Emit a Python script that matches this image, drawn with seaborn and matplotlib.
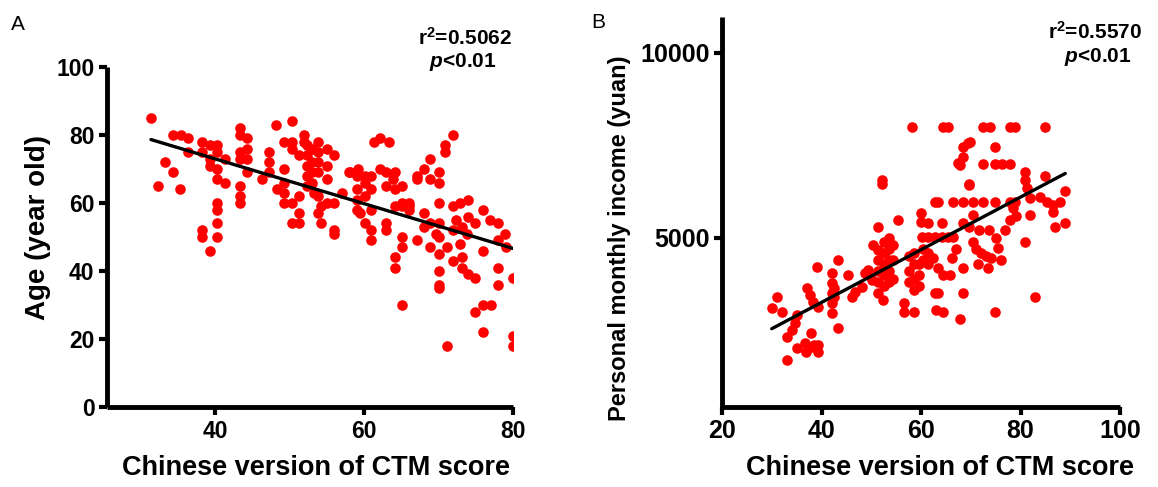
import matplotlib
matplotlib.use("Agg")
import matplotlib.pyplot as plt
import seaborn as sns
import numpy as np
import pandas as pd

# ---------------- data ----------------
a_score = [31.4, 32.4, 33.3, 34.3, 35.3, 34.3, 35.4, 36.4, 36.4, 38.3, 39.3, 40.3, 38.3, 39.3, 39.3, 40.3,
           40.3, 41.4, 41.4, 40.3, 40.3, 40.3, 40.3, 40.3, 38.3, 38.3, 39.3, 43.3, 43.3, 44.3, 43.3, 44.3,
           44.3, 43.3, 44.3, 43.3, 43.3, 43.3, 46.3, 47.3, 47.3, 47.3, 48.2, 48.3, 49.3, 49.3, 49.3, 49.3,
           49.3, 50.3, 50.3, 50.3, 50.3, 50.3, 51.3, 51.3, 51.3, 51.3, 52.0, 52.0, 52.3, 52.3, 52.3, 52.3,
           52.3, 53.0, 53.0, 53.0, 53.0, 53.3, 53.8, 53.8, 53.8, 53.8, 53.8, 53.8, 54.2, 54.2, 55.0, 55.0,
           55.0, 55.0, 56.0, 56.0, 56.0, 56.0, 57.0, 58.0, 58.1, 59.2, 59.0, 59.0, 59.0, 59.0, 59.5, 60.1,
           60.1, 60.1, 60.1, 61.0, 61.0, 61.0, 61.0, 61.0, 61.3, 62.1, 63.3, 62.1, 63.0, 63.0, 63.0, 63.0,
           64.2, 63.9, 65.1, 64.2, 64.2, 65.1, 66.0, 64.2, 64.2, 65.1, 65.1, 65.1, 65.1, 66.0, 66.0, 67.1,
           67.1, 67.1, 68.0, 68.0, 68.0, 68.9, 68.9, 68.9, 68.9, 69.7, 70.0, 70.0, 70.0, 70.0, 70.0, 70.0,
           70.0, 70.0, 70.0, 70.9, 70.9, 71.1, 71.1, 72.0, 72.0, 72.0, 72.0, 72.4, 72.9, 72.9, 73.1, 73.1,
           73.1, 73.8, 74.0, 74.0, 74.0, 74.9, 74.9, 74.9, 76.0, 76.0, 76.0, 76.0, 76.9, 77.1, 78.0, 78.0,
           78.0, 78.0, 78.9, 79.0, 80.0, 80.0, 80.0]
a_age = [85, 65, 72, 69, 64, 80, 80, 79, 75, 78, 77, 77, 75, 73, 71, 75,
         70, 73, 66, 67, 60, 58, 54, 50, 52, 50, 46, 82, 80, 79, 75, 76,
         73, 73, 69, 65, 62, 60, 67, 75, 72, 69, 83, 64, 70, 78, 66, 63,
         60, 84, 78, 76, 60, 54, 54, 57, 74, 62, 80, 78, 77, 74, 71, 68,
         65, 76, 72, 69, 66, 63, 78, 75, 72, 69, 62, 57, 54, 59, 76, 71,
         67, 60, 74, 60, 52, 51, 63, 69, 69, 70, 68, 64, 61, 58, 57, 68,
         66, 62, 54, 68, 52, 49, 58, 64, 78, 79, 78, 70, 69, 65, 54, 52,
         69, 67, 65, 64, 59, 59, 59, 44, 41, 60, 50, 47, 30, 60, 58, 68,
         67, 49, 70, 57, 53, 73, 67, 54, 47, 51, 69, 66, 60, 54, 50, 45,
         40, 36, 35, 75, 77, 47, 18, 80, 59, 52, 43, 55, 60, 48, 53, 44,
         41, 51, 61, 39, 56, 38, 28, 54, 58, 46, 30, 22, 55, 30, 54, 49,
         41, 36, 51, 47, 38, 21, 18]

b_score = [30.0, 31.0, 32.0, 33.0, 33.0, 34.0, 34.7, 35.0, 35.0, 36.7, 36.8, 37.6, 37.9, 38.4, 38.5, 39.2,
           39.2, 37.0, 37.7, 38.3, 39.3, 39.1, 42.1, 42.1, 42.1, 42.1, 42.1, 42.5, 42.5, 43.3, 43.3, 45.3,
           46.1, 46.7, 48.1, 48.7, 49.3, 50.1, 50.4, 51.4, 52.2, 52.2, 51.4, 51.4, 51.4, 51.4, 51.4, 52.4,
           52.5, 52.5, 52.5, 52.5, 52.5, 53.5, 53.5, 53.5, 53.5, 53.5, 54.3, 54.3, 54.3, 55.4, 56.6, 56.6,
           58.6, 57.6, 57.6, 57.6, 58.6, 58.6, 58.6, 58.6, 59.6, 59.6, 59.6, 58.2, 60.0, 60.0, 60.2, 61.5,
           62.9, 64.2, 65.5, 66.4, 61.5, 62.9, 62.9, 63.0, 60.4, 60.4, 61.5, 61.5, 62.4, 63.4, 64.4, 65.8,
           63.4, 64.4, 63.4, 64.4, 65.4, 66.4, 64.3, 67.4, 68.4, 69.4, 68.4, 69.8, 67.8, 69.7, 68.4, 70.4,
           68.4, 70.4, 68.4, 67.8, 69.6, 72.5, 73.8, 77.9, 78.9, 84.9, 74.9, 72.5, 74.9, 76.3, 77.9, 80.9,
           80.9, 84.9, 89.0, 72.5, 74.9, 77.9, 78.9, 81.3, 81.9, 83.9, 85.3, 86.5, 87.9, 81.9, 86.5, 78.5,
           79.0, 86.9, 88.9, 80.9, 82.9, 69.6, 71.6, 73.6, 75.0, 75.5, 76.0, 70.4, 71.0, 72.0, 73.0, 74.0,
           71.5, 73.5, 66.3, 67.0, 74.9, 76.9, 77.9, 68.4]
b_income = [3110, 3400, 3000, 1700, 2320, 2510, 2700, 2920, 2030, 2160, 1920, 2050, 2430, 2110, 2050, 1920,
            2110, 3650, 3460, 3270, 3140, 4220, 4050, 3780, 3510, 3240, 2970, 3400, 3650, 4400, 2570, 4000,
            3400, 3540, 3680, 4050, 4140, 3870, 4800, 5300, 6570, 6450, 4680, 4400, 4100, 3800, 3500, 3320,
            4900, 4600, 4300, 4000, 3700, 5000, 4700, 4400, 4100, 3800, 4800, 4400, 3900, 5490, 3240, 3000,
            3000, 4500, 4100, 3800, 4600, 4300, 3900, 3600, 4300, 4000, 3700, 8000, 5680, 5430, 5030, 5030,
            5030, 5030, 5030, 5030, 5400, 5970, 3510, 3050, 4700, 4400, 4600, 4300, 4460, 4190, 4000, 4000,
            3510, 3000, 5970, 8000, 8000, 5970, 5400, 7030, 7190, 7570, 7457, 7592, 6970, 6430, 5970, 5970,
            5400, 5620, 3510, 2810, 6460, 8000, 8000, 8000, 8000, 8000, 7457, 7000, 7000, 7000, 7000, 6780,
            6570, 6680, 6270, 5970, 5970, 5970, 5970, 6350, 6080, 6110, 5970, 5890, 5970, 5620, 5700, 5800,
            5600, 5300, 5400, 4890, 3400, 5300, 5220, 5220, 5000, 4730, 4400, 4890, 4700, 4600, 4500, 4460,
            4300, 4200, 4460, 4700, 3000, 5220, 5490, 4190]

a_xticks = [40, 60, 80]
a_yticks = [0, 20, 40, 60, 80, 100]
b_xticks = [20, 40, 60, 80, 100]
b_yticks = [5000, 10000]

df_a = pd.DataFrame({"score": a_score, "age": a_age})
df_b = pd.DataFrame({"score": b_score, "income": b_income})

# ---------------- style ----------------
sns.set_style("white")
plt.rcParams["font.family"] = ["Liberation Sans", "DejaVu Sans"]
plt.rcParams["font.weight"] = "bold"
plt.rcParams["text.color"] = "black"
plt.rcParams["axes.labelcolor"] = "black"
plt.rcParams["xtick.color"] = "black"
plt.rcParams["ytick.color"] = "black"
plt.rcParams["mathtext.fontset"] = "custom"
plt.rcParams["mathtext.rm"] = "Liberation Sans:bold"
plt.rcParams["mathtext.bf"] = "Liberation Sans:bold"
plt.rcParams["mathtext.it"] = "Liberation Sans:italic:bold"

W, H = 1158, 487
fig = plt.figure(figsize=(W / 100, H / 100), dpi=100)

def px_axes(l, r, t, b):
    return fig.add_axes([l / W, 1 - b / H, (r - l) / W, (b - t) / H])

axA = px_axes(107, 513, 67, 407)
axB = px_axes(722, 1120, 17, 407)

scat = dict(s=58, color="#ff0000", alpha=1, linewidths=0, zorder=2)
line = dict(color="black", lw=2.4, zorder=3)

sns.regplot(data=df_a, x="score", y="age", ax=axA, ci=None,
            scatter_kws=scat, line_kws=line)
sns.regplot(data=df_b, x="score", y="income", ax=axB, ci=None,
            scatter_kws=scat, line_kws=line)

axA.set_xlim(25.5, 80)
axA.set_ylim(0, 100)
axA.set_xticks(a_xticks)
axA.set_yticks(a_yticks)
axB.set_xlim(20, 100)
axB.set_ylim(430, 10970)
axB.set_xticks(b_xticks)
axB.set_yticks(b_yticks)

for ax, lsize in ((axA, 16.5), (axB, 18)):
    for s in ("top", "right"):
        ax.spines[s].set_visible(False)
    for s in ("left", "bottom"):
        ax.spines[s].set_linewidth(3.5)
        ax.spines[s].set_color("black")
        ax.spines[s].set_capstyle("butt")
    ax.tick_params(direction="out", length=6, width=3, labelsize=lsize, color="black",
                   labelcolor="black", left=True, bottom=True, pad=3)
    for lab in ax.get_xticklabels() + ax.get_yticklabels():
        lab.set_fontweight("bold")
    ax.set_facecolor("none")

axA.set_xlabel("Chinese version of CTM score", fontsize=19.5, fontweight="bold")
axA.set_ylabel("Age (year old)", fontsize=20, fontweight="bold")
axB.set_xlabel("Chinese version of CTM score", fontsize=19.5, fontweight="bold")
axB.set_ylabel("Personal monthly income (yuan)", fontsize=17, fontweight="bold")

axA.xaxis.set_label_coords((316 - 107) / 406, -(455 - 407) / 340)
axA.yaxis.set_label_coords(-(107 - 51) / 406, (407 - 228) / 340)
axB.xaxis.set_label_coords((940 - 722) / 398, -(455 - 407) / 390)
axB.yaxis.set_label_coords(-(722 - 631) / 398, (407 - 238) / 390)

# annotations
fig.text(465 / W, 1 - 38 / H, r"r$^{2}$=0.5062", ha="center", va="center", fontsize=15, fontweight="bold")
fig.text(463 / W, 1 - 62 / H, r"$\mathit{p}$<0.01", ha="center", va="center", fontsize=15, fontweight="bold")
fig.text(1095 / W, 1 - 32 / H, r"r$^{2}$=0.5570", ha="center", va="center", fontsize=15, fontweight="bold")
fig.text(1098 / W, 1 - 57 / H, r"$\mathit{p}$<0.01", ha="center", va="center", fontsize=15, fontweight="bold")

fig.text(18 / W, 1 - 25 / H, "A", ha="center", va="center", fontsize=15, fontweight="normal")
fig.text(598 / W, 1 - 22 / H, "B", ha="center", va="center", fontsize=15, fontweight="normal")

fig.savefig("out.png", dpi=100, facecolor="white")
